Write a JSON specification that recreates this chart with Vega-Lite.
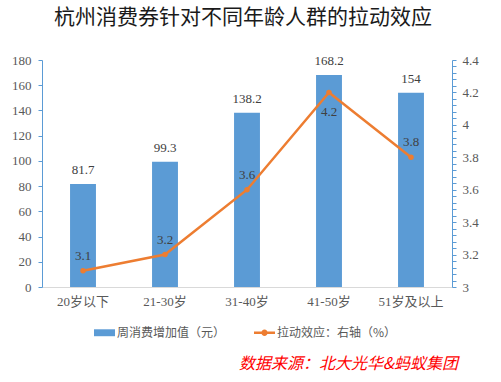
{
  "$schema": "https://vega.github.io/schema/vega-lite/v6.json",
  "width": 410,
  "height": 227,
  "autosize": {"type": "none"},
  "padding": {"left": 42, "top": 60, "right": 49, "bottom": 95},
  "background": "white",
  "title": {
    "text": "杭州消费券针对不同年龄人群的拉动效应",
    "font": "Noto Sans CJK SC",
    "fontSize": 21,
    "fontWeight": "normal",
    "color": "#1a1a1a",
    "anchor": "middle",
    "baseline": "bottom",
    "offset": 5,
    "dx": -4
  },
  "config": {
    "view": {"stroke": null},
    "axis": {"grid": false}
  },
  "data": {
    "values": [
      {"group": "20岁以下", "spend": 81.7, "effect": 3.1},
      {"group": "21-30岁", "spend": 99.3, "effect": 3.2},
      {"group": "31-40岁", "spend": 138.2, "effect": 3.6},
      {"group": "41-50岁", "spend": 168.2, "effect": 4.2},
      {"group": "51岁及以上", "spend": 154, "effect": 3.8}
    ]
  },
  "encoding": {
    "x": {
      "field": "group",
      "type": "nominal",
      "sort": null,
      "scale": {"paddingInner": 0.684, "paddingOuter": 0.342},
      "axis": {
        "labelAngle": 0,
        "labelFont": "Liberation Serif, Noto Sans CJK SC",
        "labelFontSize": 13,
        "labelColor": "#595959",
        "labelPadding": 8,
        "ticks": false,
        "domainColor": "#D9D9D9",
        "domainWidth": 1,
        "title": "数据来源：北大光华&蚂蚁集团",
        "titleFont": "Noto Sans CJK SC",
        "titleFontSize": 16,
        "titleFontStyle": "italic",
        "titleFontWeight": "normal",
        "titleColor": "#FF0000",
        "titleX": 306,
        "titleY": 76,
        "titleAlign": "center",
        "titleBaseline": "middle"
      }
    }
  },
  "layer": [
    {
      "layer": [
        {
          "mark": {"type": "bar", "color": "#5B9BD5"},
          "encoding": {
            "y": {
              "field": "spend",
              "type": "quantitative",
              "scale": {"domain": [0, 180], "nice": false},
              "axis": {
                "values": [0, 20, 40, 60, 80, 100, 120, 140, 160, 180],
                "tickCount": 20,
                "labelOverlap": false,
                "title": null,
                "domainColor": "#5B9BD5",
                "tickColor": "#5B9BD5",
                "tickSize": 4,
                "labelFont": "Liberation Serif",
                "labelFontSize": 13,
                "labelColor": "#595959",
                "labelPadding": 7
              }
            },
            "color": {
              "datum": "周消费增加值（元）",
              "type": "nominal",
              "scale": {
                "domain": ["周消费增加值（元）", "拉动效应：右轴（%）"],
                "range": ["#5B9BD5", "#ED7D31"]
              },
              "legend": {
                "orient": "none",
                "legendX": 52,
                "legendY": 262,
                "direction": "horizontal",
                "columns": 2,
                "columnPadding": 28,
                "title": null,
                "labelFont": "Noto Sans CJK SC",
                "labelFontSize": 12,
                "labelColor": "#595959",
                "labelOffset": 2,
                "symbolSize": 441,
                "encode": {
                  "symbols": {
                    "update": {
                      "shape": {"signal": "datum.value === '周消费增加值（元）' ? 'M-1,-0.33H1V0.33H-1Z' : 'M-1,-0.11H1V0.11H-1Z M-0.3,0A0.3,0.3,0,1,1,0.3,0A0.3,0.3,0,1,1,-0.3,0Z'"},
                      "fill": {"signal": "datum.value === '周消费增加值（元）' ? '#5B9BD5' : '#ED7D31'"},
                      "stroke": {"value": "transparent"},
                      "strokeWidth": {"value": 0},
                      "opacity": {"value": 1},
                      "fillOpacity": {"value": 1}
                    }
                  }
                }
              }
            }
          }
        },
        {
          "mark": {"type": "text", "baseline": "bottom", "dy": -7, "font": "Liberation Serif", "fontSize": 13, "color": "#404040"},
          "encoding": {
            "y": {"field": "spend", "type": "quantitative"},
            "text": {"field": "spend", "type": "quantitative"}
          }
        }
      ]
    },
    {
      "layer": [
        {
          "mark": {"type": "line", "strokeWidth": 2.5, "point": {"filled": true, "size": 30}},
          "encoding": {
            "y": {
              "field": "effect",
              "type": "quantitative",
              "scale": {"domain": [3, 4.4], "nice": false, "zero": false},
              "axis": {
                "orient": "right",
                "values": [3, 3.04, 3.08, 3.12, 3.16, 3.2, 3.24, 3.28, 3.32, 3.36, 3.4, 3.44, 3.48, 3.52, 3.56, 3.6, 3.64, 3.68, 3.72, 3.76, 3.8, 3.84, 3.88, 3.92, 3.96, 4, 4.04, 4.08, 4.12, 4.16, 4.2, 4.24, 4.28, 4.32, 4.36, 4.4],
                "tickCount": 100,
                "labelExpr": "abs(datum.value*5 - round(datum.value*5)) < 0.001 ? format(datum.value, '.1~f') : ''",
                "labelOverlap": false,
                "title": null,
                "domainColor": "#5B9BD5",
                "tickColor": "#5B9BD5",
                "tickSize": 4,
                "labelFont": "Liberation Serif",
                "labelFontSize": 13,
                "labelColor": "#595959",
                "labelPadding": 6
              }
            },
            "color": {"datum": "拉动效应：右轴（%）", "type": "nominal"}
          }
        },
        {
          "transform": [{"filter": "datum.effect < 4.1"}],
          "mark": {"type": "text", "baseline": "bottom", "dy": -8, "font": "Liberation Serif", "fontSize": 13, "color": "#404040"},
          "encoding": {
            "y": {"field": "effect", "type": "quantitative"},
            "text": {"field": "effect", "type": "quantitative", "format": ".1f"}
          }
        },
        {
          "transform": [{"filter": "datum.effect >= 4.1"}],
          "mark": {"type": "text", "baseline": "top", "dy": 14, "font": "Liberation Serif", "fontSize": 13, "color": "#404040"},
          "encoding": {
            "y": {"field": "effect", "type": "quantitative"},
            "text": {"field": "effect", "type": "quantitative", "format": ".1f"}
          }
        }
      ]
    }
  ],
  "resolve": {"scale": {"y": "independent"}}
}
